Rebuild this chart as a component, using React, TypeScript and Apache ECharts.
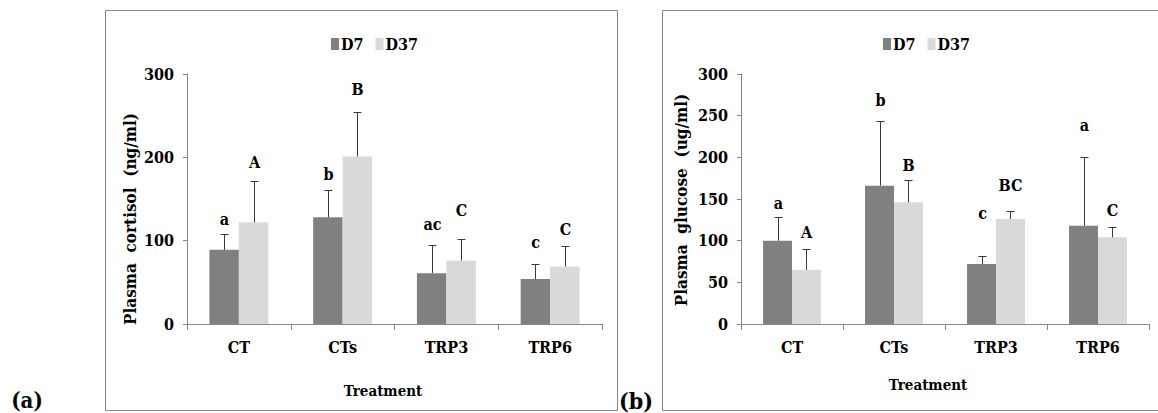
import React, { useEffect, useRef } from "react";
import * as echarts from "echarts";

const categories = ["CT", "CTs", "TRP3", "TRP6"];
const seriesNames = ["D7", "D37"];

// Panel (a): plasma cortisol (ng/ml)
const cortisolD7 = [89, 128, 61, 54];
const cortisolD7Err = [19, 33, 34, 18];
const cortisolD37 = [122, 201, 76, 69];
const cortisolD37Err = [50, 53, 26, 25];
const cortisolD7Letters = ["a", "b", "ac", "c"];
const cortisolD37Letters = ["A", "B", "C", "C"];
const cortisolD7LetterAt = [125, 179, 120, 98];
const cortisolD37LetterAt = [194, 281, 136, 113];
const cortisolTicks = [0, 100, 200, 300];

// Panel (b): plasma glucose (ug/ml)
const glucoseD7 = [100, 166, 72, 118];
const glucoseD7Err = [29, 78, 10, 82];
const glucoseD37 = [65, 146, 126, 104];
const glucoseD37Err = [25, 27, 10, 13];
const glucoseD7Letters = ["a", "b", "c", "a"];
const glucoseD37Letters = ["A", "B", "BC", "C"];
const glucoseD7LetterAt = [145, 268, 133, 238];
const glucoseD37LetterAt = [110, 190, 166, 136];
const glucoseTicks = [0, 50, 100, 150, 200, 250, 300];

const FONT = "DejaVu Serif Condensed";
const C_D7 = "#808080";
const C_D37 = "#d9d9d9";
const AXIS = "#868686";
const BAR_RATIO = 0.284;

function errSeries(
  axis: number,
  vals: number[],
  errs: number[],
  letters: string[],
  letterAt: number[],
  sign: number
) {
  return {
    type: "custom",
    xAxisIndex: axis,
    yAxisIndex: axis,
    z: 10,
    silent: true,
    clip: false,
    data: vals.map((v, i) => [i, v]),
    renderItem: (params: any, api: any) => {
      const i = params.dataIndex;
      const base = api.coord([i, vals[i]]);
      const top = api.coord([i, vals[i] + errs[i]]);
      const lbl = api.coord([i, letterAt[i]]);
      const bw = api.size([1, 0])[0] * BAR_RATIO;
      const x = Math.round(base[0] + (sign * bw) / 2) + 0.5;
      const yt = Math.round(top[1]) + 0.5;
      return {
        type: "group",
        children: [
          {
            type: "line",
            shape: { x1: x, y1: base[1], x2: x, y2: yt },
            style: { stroke: "#3a3a3a", lineWidth: 1 },
          },
          {
            type: "line",
            shape: { x1: x - 4, y1: yt, x2: x + 4, y2: yt },
            style: { stroke: "#3a3a3a", lineWidth: 1 },
          },
          {
            type: "text",
            x: x,
            y: lbl[1],
            style: {
              text: letters[i],
              fill: "#000",
              fontFamily: FONT,
              fontWeight: "bold",
              fontSize: 16,
              align: "center",
              verticalAlign: "middle",
            },
          },
        ],
      };
    },
  };
}

function barSeries(axis: number, name: string, data: number[], color: string) {
  return {
    type: "bar",
    name,
    xAxisIndex: axis,
    yAxisIndex: axis,
    data,
    barWidth: (BAR_RATIO * 100).toFixed(1) + "%",
    barGap: "0%",
    itemStyle: { color },
    silent: true,
  };
}

function xAxis(grid: number) {
  return {
    type: "category",
    gridIndex: grid,
    data: categories,
    boundaryGap: true,
    axisLine: { lineStyle: { color: AXIS, width: 1 } },
    axisTick: { show: true, length: 6, alignWithLabel: false, lineStyle: { color: AXIS } },
    axisLabel: {
      color: "#000",
      fontFamily: FONT,
      fontWeight: "bold",
      fontSize: 16,
      margin: 15,
    },
    splitLine: { show: false },
  };
}

function yAxis(grid: number, ticks: number[]) {
  return {
    type: "value",
    gridIndex: grid,
    min: ticks[0],
    max: ticks[ticks.length - 1],
    interval: ticks[1] - ticks[0],
    axisLine: { show: true, lineStyle: { color: AXIS, width: 1 } },
    axisTick: { show: true, length: 4, lineStyle: { color: AXIS } },
    axisLabel: {
      color: "#000",
      fontFamily: FONT,
      fontWeight: "bold",
      fontSize: 16,
      margin: 13,
    },
    splitLine: { show: false },
  };
}

function legend(left: number) {
  return {
    left,
    top: 36,
    orient: "horizontal",
    padding: 0,
    itemWidth: 8,
    itemHeight: 12,
    itemGap: 12,
    icon: "rect",
    selectedMode: false,
    data: seriesNames,
    textStyle: {
      color: "#000",
      fontFamily: FONT,
      fontWeight: "bold",
      fontSize: 16,
      padding: [0, 0, 0, -3],
    },
  };
}

function txt(
  text: string,
  x: number,
  y: number,
  size: number,
  rotation = 0
) {
  return {
    type: "text",
    x,
    y,
    rotation,
    silent: true,
    style: {
      text,
      fill: "#000",
      fontFamily: FONT,
      fontWeight: "bold",
      fontSize: size,
      align: "center",
      verticalAlign: "middle",
    },
  };
}

export default function App() {
  const ref = useRef<HTMLDivElement>(null);
  useEffect(() => {
    if (!ref.current) return;
    const chart = echarts.init(ref.current, null, { renderer: "svg" });
    chart.setOption({
      animation: false,
      backgroundColor: "#ffffff",
      grid: [
        { left: 187, top: 74, width: 415, height: 250 },
        { left: 741, top: 74, width: 408, height: 250 },
      ],
      legend: [legend(331), legend(883)],
      xAxis: [xAxis(0), xAxis(1)],
      yAxis: [yAxis(0, cortisolTicks), yAxis(1, glucoseTicks)],
      series: [
        barSeries(0, "D7", cortisolD7, C_D7),
        barSeries(0, "D37", cortisolD37, C_D37),
        barSeries(1, "D7", glucoseD7, C_D7),
        barSeries(1, "D37", glucoseD37, C_D37),
        errSeries(0, cortisolD7, cortisolD7Err, cortisolD7Letters, cortisolD7LetterAt, -1),
        errSeries(0, cortisolD37, cortisolD37Err, cortisolD37Letters, cortisolD37LetterAt, 1),
        errSeries(1, glucoseD7, glucoseD7Err, glucoseD7Letters, glucoseD7LetterAt, -1),
        errSeries(1, glucoseD37, glucoseD37Err, glucoseD37Letters, glucoseD37LetterAt, 1),
      ],
      graphic: [
        {
          type: "rect",
          silent: true,
          shape: { x: 105.5, y: 10.5, width: 512, height: 400 },
          style: { fill: "none", stroke: AXIS, lineWidth: 1 },
        },
        {
          type: "rect",
          silent: true,
          shape: { x: 662.5, y: 10.5, width: 520, height: 400 },
          style: { fill: "none", stroke: AXIS, lineWidth: 1 },
        },
        txt("Plasma  cortisol  (ng/ml)", 130, 219, 17, Math.PI / 2),
        txt("Plasma  glucose  (ug/ml)", 681, 200, 17, Math.PI / 2),
        txt("Treatment", 383, 391, 15),
        txt("Treatment", 928, 385, 15),
        txt("(a)", 27, 400, 22),
        txt("(b)", 636, 400, 23),
      ],
    });
    return () => chart.dispose();
  }, []);
  return (
    <div
      ref={ref}
      style={{ position: "absolute", left: 0, top: 0, width: 1158, height: 413 }}
    />
  );
}
